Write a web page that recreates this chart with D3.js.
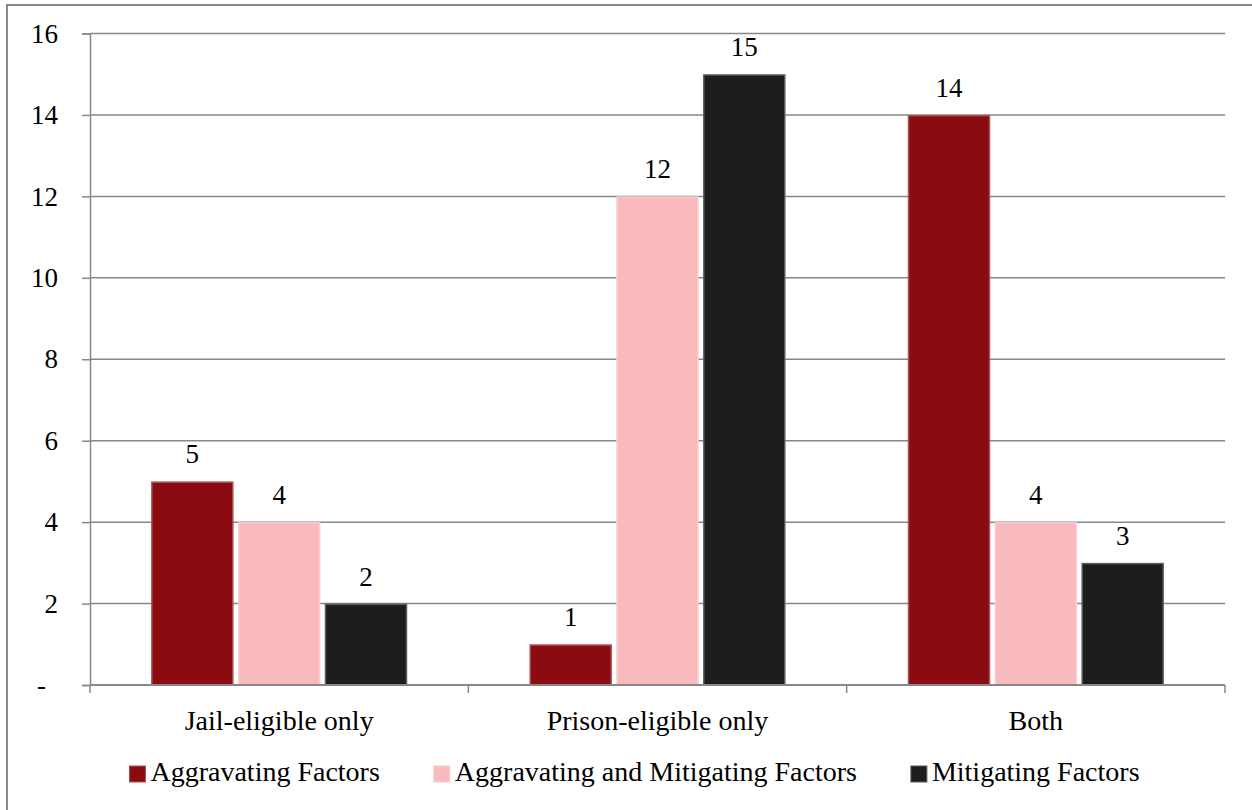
<!DOCTYPE html>
<html>
<head>
<meta charset="utf-8">
<script src="https://cdn.jsdelivr.net/npm/d3@7"></script>
<style>
  html, body { margin: 0; padding: 0; background: #fff; }
  svg { display: block; }
</style>
</head>
<body>
<svg id="chart" width="1252" height="810"></svg>
<script>
// Offence categories along the x axis
const categories = ["Jail-eligible only", "Prison-eligible only", "Both"];

// Series names and their counts per category
const seriesNames = ["Aggravating Factors", "Aggravating and Mitigating Factors", "Mitigating Factors"];
const aggravating = [5, 1, 14];
const aggravatingAndMitigating = [4, 12, 4];
const mitigating = [2, 15, 3];

// Y axis ticks (zero shown as a dash)
const yTicks = [0, 2, 4, 6, 8, 10, 12, 14, 16];

const seriesValues = [aggravating, aggravatingAndMitigating, mitigating];
const seriesColors = ["#8a0c11", "#f9babd", "#1d1d1d"];

const FONT = "Liberation Serif, DejaVu Serif, Times, serif";
const svg = d3.select("#chart").attr("font-family", FONT);
const W = 1252, H = 810;
const plot = { left: 90, right: 1225, top: 33.5, bottom: 685 };
const axisColor = "#888888";

// outer frame of the chart area
svg.append("rect")
  .attr("x", 7).attr("y", 5)
  .attr("width", W + 20).attr("height", H + 20)
  .attr("fill", "none").attr("stroke", axisColor).attr("stroke-width", 2);

const y = d3.scaleLinear().domain([0, 16]).range([plot.bottom, plot.top]);
const x0 = d3.scaleBand().domain(categories).range([plot.left, plot.right]).padding(0);
const groupFrac = 0.677;
const x1 = d3.scaleBand()
  .domain(d3.range(seriesNames.length))
  .range([x0.bandwidth() * (1 - groupFrac) / 2, x0.bandwidth() * (1 + groupFrac) / 2])
  .paddingInner(0.05).paddingOuter(0);

// y axis with ticks
const yAxis = d3.axisLeft(y).tickValues(yTicks).tickSize(8).tickFormat(d => d === 0 ? "-" : d);
const gy = svg.append("g").attr("transform", `translate(${plot.left},0)`).call(yAxis)
  .attr("font-family", FONT).attr("font-size", 27);
gy.select(".domain").attr("stroke", axisColor).attr("stroke-width", 1.5);
gy.selectAll(".tick line").attr("stroke", axisColor).attr("stroke-width", 1.5);
gy.selectAll(".tick text")
  .attr("x", d => d === 0 ? -44 : -32)
  .attr("fill", "#000");

// horizontal gridlines
svg.append("g").selectAll("line")
  .data(yTicks.filter(d => d > 0))
  .join("line")
  .attr("x1", plot.left).attr("x2", plot.right)
  .attr("y1", d => y(d)).attr("y2", d => y(d))
  .attr("stroke", axisColor).attr("stroke-width", 1.5);

// bars
const groups = svg.append("g").selectAll("g")
  .data(categories)
  .join("g")
  .attr("transform", d => `translate(${x0(d)},0)`);

groups.selectAll("rect")
  .data((c, ci) => seriesValues.map((vals, si) => ({ si, v: vals[ci] })))
  .join("rect")
  .attr("x", d => x1(d.si) + 0.75)
  .attr("y", d => y(d.v) + 0.75)
  .attr("width", x1.bandwidth() - 1.5)
  .attr("height", d => y(0) - y(d.v) - 0.75)
  .attr("fill", d => seriesColors[d.si])
  .attr("stroke", d => d3.interpolateRgb(seriesColors[d.si], "#ffffff")(0.28))
  .attr("stroke-width", 1.5);

// value labels
groups.selectAll("text.val")
  .data((c, ci) => seriesValues.map((vals, si) => ({ si, v: vals[ci] })))
  .join("text")
  .attr("class", "val")
  .attr("x", d => x1(d.si) + x1.bandwidth() / 2)
  .attr("y", d => y(d.v) - 18)
  .attr("text-anchor", "middle")
  .attr("font-size", 27)
  .attr("fill", "#000")
  .text(d => d.v);

// x axis line with boundary ticks
svg.append("line")
  .attr("x1", plot.left).attr("x2", plot.right)
  .attr("y1", plot.bottom).attr("y2", plot.bottom)
  .attr("stroke", axisColor).attr("stroke-width", 2);
const boundaries = categories.map(c => x0(c)).concat([plot.right]);
svg.append("g").selectAll("line")
  .data(boundaries)
  .join("line")
  .attr("x1", d => d).attr("x2", d => d)
  .attr("y1", plot.bottom).attr("y2", plot.bottom + 8)
  .attr("stroke", axisColor).attr("stroke-width", 1.5);

// category labels
svg.append("g").selectAll("text")
  .data(categories)
  .join("text")
  .attr("x", d => x0(d) + x0.bandwidth() / 2)
  .attr("y", 730)
  .attr("text-anchor", "middle")
  .attr("font-size", 28)
  .attr("fill", "#000")
  .text(d => d);

// legend
const legend = svg.append("g");
const items = legend.selectAll("g")
  .data(seriesNames)
  .join("g");
items.append("rect")
  .attr("width", 16).attr("height", 16)
  .attr("y", 766)
  .attr("fill", (d, i) => seriesColors[i])
  .attr("stroke", (d, i) => d3.interpolateRgb(seriesColors[i], "#ffffff")(0.28))
  .attr("stroke-width", 1);
items.append("text")
  .attr("x", 21).attr("y", 781)
  .attr("font-size", 28)
  .attr("fill", "#000")
  .text(d => d);

const gap = 54;
const widths = [];
items.each(function () {
  widths.push(21 + d3.select(this).select("text").node().getComputedTextLength());
});
const total = d3.sum(widths) + gap * (widths.length - 1);
let cursor = 634.5 - total / 2;
items.attr("transform", (d, i) => {
  const t = `translate(${cursor},0)`;
  cursor += widths[i] + gap;
  return t;
});
</script>
</body>
</html>
